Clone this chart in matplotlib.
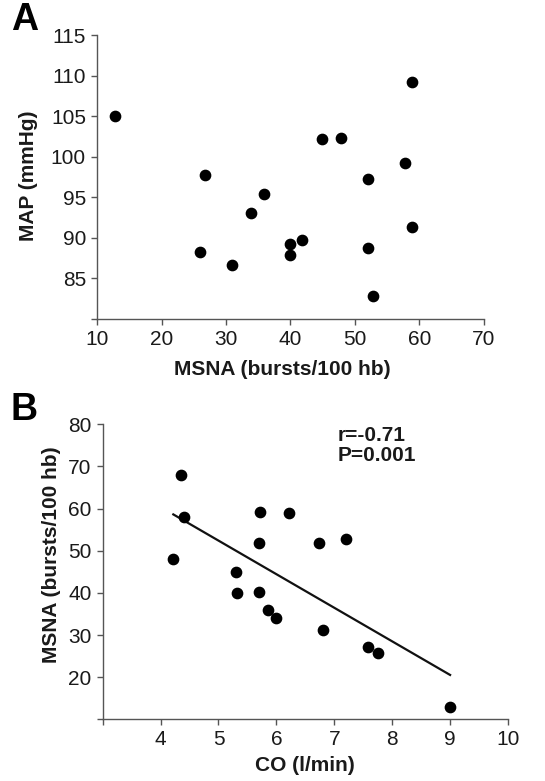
import numpy as np
import matplotlib
matplotlib.use("Agg")
import matplotlib.pyplot as plt

plt.rcParams["font.family"] = ["Liberation Sans", "DejaVu Sans"]

# ========= 数据 A：MSNA vs MAP =========
msna_a = [12.8, 26.8, 25.9, 30.9, 33.9, 35.9, 39.9, 39.9, 41.85,
          44.95, 47.8, 52.0, 52.0, 52.85, 57.8, 58.9, 58.9]
map_a = [105.0, 97.8, 88.3, 86.6, 93.1, 95.4, 89.3, 87.9, 89.7,
         102.2, 102.3, 97.2, 88.7, 82.9, 99.2, 109.2, 91.3]

# ========= 数据 B：CO vs MSNA =========
co_b = [4.36, 4.41, 4.22, 5.30, 5.32, 5.72, 5.70, 5.70, 5.85,
        6.00, 6.21, 6.74, 6.80, 7.20, 7.59, 7.75, 9.00]
msna_b = [68.0, 57.9, 48.0, 45.0, 39.9, 59.1, 51.9, 40.2, 35.9,
          34.0, 58.9, 51.9, 31.1, 52.9, 27.1, 25.8, 12.9]

a_xticks = [10, 20, 30, 40, 50, 60, 70]
a_yticks = [80, 85, 90, 95, 100, 105, 110, 115]
b_xticks = [3, 4, 5, 6, 7, 8, 9, 10]
b_yticks = [10, 20, 30, 40, 50, 60, 70, 80]
stats_text = "r=-0.71\nP=0.001"

TEXT = "#1a1a1a"
SPINE = "#555555"
TICK_FS = 15
LABEL_FS = 15

fig = plt.figure(figsize=(5.45, 7.81), dpi=100)
ax_a = fig.add_axes([0.178, 0.5915, 0.710, 0.3636])
ax_b = fig.add_axes([0.1884, 0.079, 0.7437, 0.3777])


def style(ax, xt, yt, hide_x0, hide_y0):
    for s in ["top", "right"]:
        ax.spines[s].set_visible(False)
    for s in ["left", "bottom"]:
        ax.spines[s].set_color(SPINE)
        ax.spines[s].set_linewidth(1.0)
    ax.set_xlim(xt[0], xt[-1])
    ax.set_ylim(yt[0], yt[-1])
    ax.set_xticks(xt)
    ax.set_yticks(yt)
    ax.set_xticklabels(["" if (hide_x0 and i == 0) else str(v) for i, v in enumerate(xt)])
    ax.set_yticklabels(["" if (hide_y0 and i == 0) else str(v) for i, v in enumerate(yt)])
    ax.tick_params(direction="out", length=4, width=1.0, color=SPINE,
                   labelsize=TICK_FS, labelcolor=TEXT, pad=4)


# ========= 图 A =========
ax_a.scatter(msna_a, map_a, s=55, color="black", zorder=3, clip_on=False)
style(ax_a, a_xticks, a_yticks, False, True)
ax_a.set_xlabel("MSNA (bursts/100 hb)", fontsize=LABEL_FS, fontweight="bold", color=TEXT)
ax_a.set_ylabel("MAP (mmHg)", fontsize=LABEL_FS, fontweight="bold", color=TEXT)
ax_a.xaxis.set_label_coords(0.48, -0.145)
ax_a.yaxis.set_label_coords(-0.152, 0.505)
fig.text(0.02, 0.951, "A", fontsize=27, fontweight="bold", color="black", va="bottom")

# ========= 图 B =========
ax_b.scatter(co_b, msna_b, s=55, color="black", zorder=3, clip_on=False)
slope, intercept = np.polyfit(co_b, msna_b, 1)
x_fit = np.array([min(co_b), max(co_b)])
ax_b.plot(x_fit, slope * x_fit + intercept, color="#111111", linewidth=1.6, zorder=2)
style(ax_b, b_xticks, b_yticks, True, True)
ax_b.set_xlabel("CO (l/min)", fontsize=LABEL_FS, fontweight="bold", color=TEXT)
ax_b.set_ylabel("MSNA (bursts/100 hb)", fontsize=LABEL_FS, fontweight="bold", color=TEXT)
ax_b.xaxis.set_label_coords(0.5, -0.125)
ax_b.yaxis.set_label_coords(-0.103, 0.557)
ax_b.text(0.58, 0.995, stats_text, transform=ax_b.transAxes, fontsize=15,
          fontweight="bold", color=TEXT, va="top", ha="left", linespacing=1.1)
fig.text(0.02, 0.452, "B", fontsize=27, fontweight="bold", color="black", va="bottom")

plt.savefig("out.png", dpi=100)
plt.close()
